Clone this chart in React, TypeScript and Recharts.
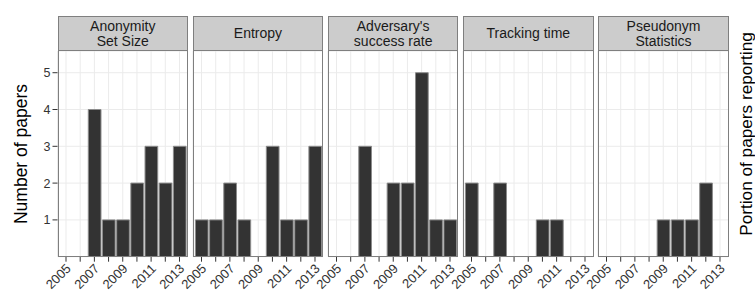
import { BarChart, Bar, XAxis, YAxis, CartesianGrid } from 'recharts';

const years = [2005, 2006, 2007, 2008, 2009, 2010, 2011, 2012, 2013];
const yTicks = [1, 2, 3, 4, 5];

const anonymitySetSize = [0, 0, 4, 1, 1, 2, 3, 2, 3];
const entropy = [1, 1, 2, 1, 0, 3, 1, 1, 3];
const adversarySuccess = [0, 0, 3, 0, 2, 2, 5, 1, 1];
const trackingTime = [2, 0, 2, 0, 0, 1, 1, 0, 0];
const pseudonymStats = [0, 0, 0, 0, 1, 1, 1, 2, 0];

const panelTitles = [
  ['Anonymity', 'Set Size'],
  ['Entropy'],
  ["Adversary's", 'success rate'],
  ['Tracking time'],
  ['Pseudonym', 'Statistics'],
];
const panelValues = [anonymitySetSize, entropy, adversarySuccess, trackingTime, pseudonymStats];

const FONT = '"Liberation Sans", Arial, Helvetica, sans-serif';
const PANEL_LEFT = 57.5;
const PANEL_STEP = 135.2;
const PANEL_W = 130.5;
const PANEL_TOP = 51;
const PANEL_H = 205.7;
const STRIP_TOP = 16;
const AXIS_H = 44;
const PAD = 30; // room for the rotated labels that hang left of a panel

function XTick({ x, y, payload }: any) {
  const v = payload.value as number;
  if (v % 2 === 0) return null;
  return (
    <text
      x={x}
      y={y}
      transform={`rotate(-45, ${x}, ${y})`}
      textAnchor="end"
      dy="0.62em"
      fontSize={13}
      fill="#333"
      fontFamily={FONT}
    >
      {v}
    </text>
  );
}

function Panel({ index }: { index: number }) {
  const values = panelValues[index];
  const data = years.map((year, i) => ({ year, count: values[i] }));
  const first = index === 0;
  const left = first ? 0 : PANEL_LEFT + index * PANEL_STEP - PAD;
  const width = first ? PANEL_LEFT + PANEL_W : PANEL_W + PAD;
  return (
    <div style={{ position: 'absolute', left, top: PANEL_TOP }}>
      <BarChart
        width={width}
        height={PANEL_H + AXIS_H}
        data={data}
        margin={{ top: 0, right: 0, bottom: 0, left: first ? 0 : PAD }}
      >
        <CartesianGrid stroke="#ebebeb" strokeWidth={1} />
        <XAxis
          type="number"
          dataKey="year"
          domain={[2004.4, 2013.6]}
          ticks={years}
          interval={0}
          allowDataOverflow
          height={AXIS_H}
          axisLine={false}
          tickLine={{ stroke: '#333' }}
          tickSize={5}
          tick={<XTick />}
        />
        <YAxis
          hide={!first}
          width={PANEL_LEFT}
          domain={[0, 5.59]}
          ticks={yTicks}
          allowDataOverflow
          axisLine={false}
          tickLine={{ stroke: '#333' }}
          tickSize={5}
          tickMargin={2}
          tick={{ fill: '#333', fontSize: 12.5, fontFamily: FONT }}
        />
        <Bar dataKey="count" fill="#333333" stroke="#8c8c8c" strokeWidth={1} barSize={12.7} isAnimationActive={false} />
      </BarChart>
    </div>
  );
}

export default function App() {
  return (
    <div style={{ position: 'absolute', left: 0, top: 0, width: 755, height: 301, background: '#fff', fontFamily: FONT, overflow: 'hidden' }}>
      {panelTitles.map((_, i) => (
        <Panel key={i} index={i} />
      ))}
      {panelTitles.map((lines, i) => (
        <div
          key={'s' + i}
          style={{
            position: 'absolute',
            left: PANEL_LEFT + i * PANEL_STEP,
            top: STRIP_TOP,
            width: PANEL_W,
            height: PANEL_TOP - STRIP_TOP,
            boxSizing: 'border-box',
            background: '#cccccc',
            border: '1px solid #7f7f7f',
            display: 'flex',
            flexDirection: 'column',
            justifyContent: 'center',
            alignItems: 'center',
            fontSize: 14,
            lineHeight: '15px',
            color: '#1a1a1a',
          }}
        >
          {lines.map((l, j) => (
            <div key={j}>{l}</div>
          ))}
        </div>
      ))}
      {panelTitles.map((_, i) => (
        <div
          key={'b' + i}
          style={{
            position: 'absolute',
            left: PANEL_LEFT + i * PANEL_STEP,
            top: PANEL_TOP - 1,
            width: PANEL_W,
            height: PANEL_H + 1,
            boxSizing: 'border-box',
            border: '1px solid #7f7f7f',
            pointerEvents: 'none',
          }}
        />
      ))}
      <div
        style={{
          position: 'absolute',
          left: 21,
          top: 154,
          transform: 'translate(-50%, -50%) rotate(-90deg)',
          whiteSpace: 'nowrap',
          fontSize: 17.5,
          color: '#000',
        }}
      >
        Number of papers
      </div>
      <div
        style={{
          position: 'absolute',
          left: 746,
          top: 134,
          transform: 'translate(-50%, -50%) rotate(-90deg)',
          whiteSpace: 'nowrap',
          fontSize: 17.2,
          color: '#000',
        }}
      >
        Portion of papers reporting
      </div>
    </div>
  );
}
